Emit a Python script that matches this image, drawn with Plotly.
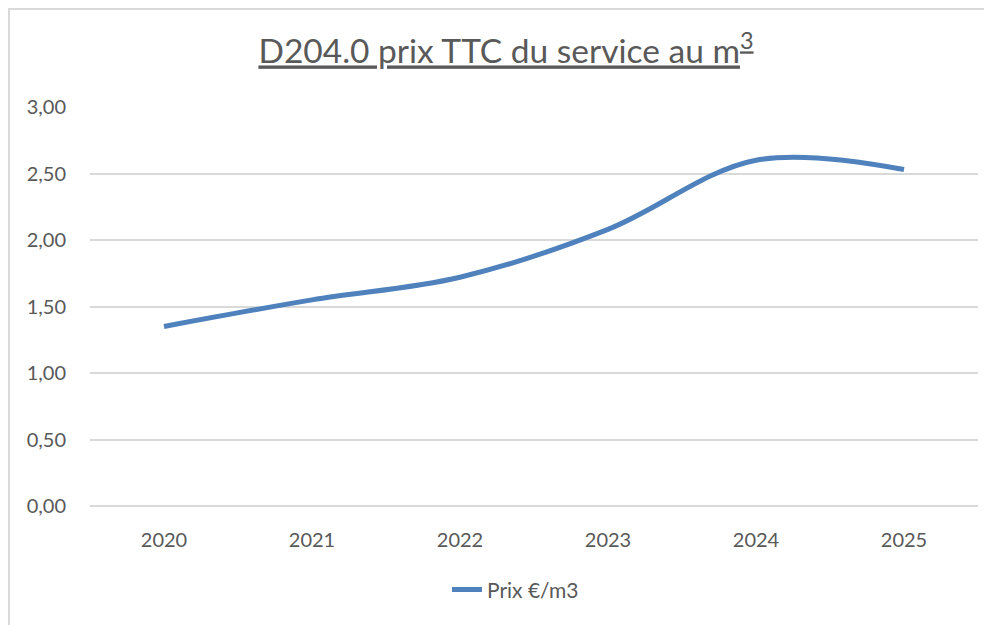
import plotly.graph_objects as go

years = ["2020", "2021", "2022", "2023", "2024", "2025"]
prix = [1.35, 1.55, 1.72, 2.08, 2.60, 2.53]

fig = go.Figure()

fig.add_trace(go.Scatter(
    x=years, y=prix, name="Prix €/m3", mode="lines",
    line=dict(color="#4F81BD", width=5, shape="spline", smoothing=1),
))

# gray chart frame (left and top edges visible, like the cropped Excel chart)
fig.add_shape(type="rect", xref="paper", yref="paper",
              x0=-0.0912, x1=1.2, y0=-1.0, y1=1.2455,
              line=dict(color="#D9D9D9", width=2), fillcolor="rgba(0,0,0,0)")

fig.update_layout(
    width=992, height=625,
    margin=dict(l=82, r=22, t=99, b=127),
    paper_bgcolor="white", plot_bgcolor="white",
    separators=", ",
    font=dict(family="Lato, Open Sans, sans-serif", color="#595959", size=20),
    title=dict(text="<u>D204.0 prix TTC du service au m<sup>3</sup></u>",
               x=0.502, xanchor="center", y=0.93, yanchor="middle",
               font=dict(size=33.5, color="#595959")),
    showlegend=True,
    legend=dict(orientation="h", x=0.402, xanchor="left", y=-0.21, yanchor="middle",
                font=dict(size=21, color="#595959")),
)

fig.update_xaxes(range=[-0.5, 5.5], showgrid=False, showline=False, ticks="",
                 ticklabelstandoff=20, tickfont=dict(size=20, color="#595959"))
fig.update_yaxes(range=[0, 3], dtick=0.5, tickformat=".2f",
                 showgrid=True, gridcolor="#D9D9D9", gridwidth=1.5,
                 zeroline=True, zerolinecolor="#D9D9D9", zerolinewidth=1.5,
                 showline=False, ticks="", ticklabelstandoff=23,
                 tickfont=dict(size=20, color="#595959"))

fig.write_html("out.html")
